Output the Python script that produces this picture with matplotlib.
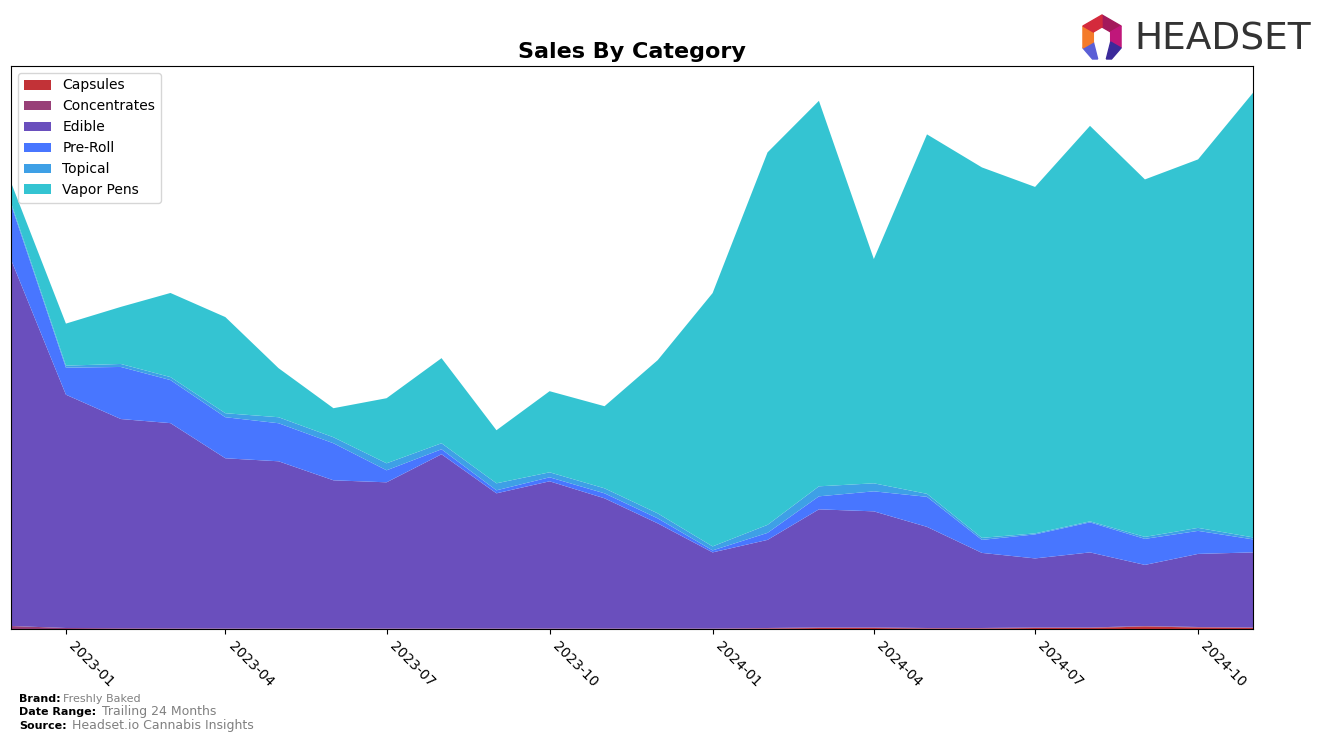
import matplotlib

matplotlib.use("Agg")
import matplotlib.pyplot as plt
import matplotlib.dates as mdates
import numpy as np
import pandas as pd
from matplotlib.patches import Polygon

# monthly sales by category (arbitrary units)
months = pd.date_range("2022-12-01", "2024-11-01", freq="MS")
categories = ["Capsules", "Concentrates", "Edible", "Pre-Roll", "Topical", "Vapor Pens"]
capsules = [0, 0, 0, 0, 0, 0, 0, 0, 0, 0, 0, 0, 0, 0, 0.5, 1, 1, 0.5, 0.5, 1, 1, 2.5, 1.5, 1]
concentrates = [3, 1, 0.7, 0.6, 0.5, 0.5, 0.5, 0.5, 0.5, 0.5, 0.5, 0.5,
                0.5, 0.5, 0.5, 0.5, 0.5, 0.5, 0.5, 0.5, 0.5, 0.5, 0.5, 0.5]
edible = [366, 233, 209, 205, 170, 167, 148, 146, 174, 135, 147, 130,
          105, 76, 88, 118, 116, 101, 75, 69, 75, 61, 73, 75]
pre_roll = [55, 27, 52, 43, 41, 38, 37, 12, 5, 3, 4, 5,
            5, 2, 7, 13, 20, 30, 13, 24, 30, 26, 23, 13]
topical = [2, 2, 3, 3, 4, 6, 6, 7, 6, 7, 5, 5,
           5, 4, 8, 10, 8, 3, 2, 1, 1, 2, 3, 2]
vapor_pens = [20, 42, 57, 84, 96, 49, 29, 65, 85, 53, 81, 82,
              153, 253, 372, 385, 224, 359, 370, 346, 395, 357, 368, 444]

COLORS = ["#c23237", "#984078", "#6a4fbd", "#4876ff", "#3ea0e6", "#34c4d2"]

series = [capsules, concentrates, edible, pre_roll, topical, vapor_pens]
totals = np.sum(np.array(series), axis=0)

fig = plt.figure(figsize=(13.17, 7.43), dpi=100)
ax = fig.add_axes([11 / 1317, 1 - 629 / 743, (1253 - 11) / 1317, (629 - 66) / 743])

ax.stackplot(months, *series, labels=categories, colors=COLORS, linewidth=0)
ax.set_xlim(months[0], months[-1])
ax.set_ylim(0, totals.max() * 1.05)
ax.set_yticks([])
ax.xaxis.set_major_locator(mdates.MonthLocator(bymonth=[1, 4, 7, 10]))
ax.xaxis.set_major_formatter(mdates.DateFormatter("%Y-%m"))
plt.setp(ax.get_xticklabels(), rotation=-45, ha="left", fontsize=10)
ax.set_title("Sales By Category", fontsize=16, fontweight="bold", pad=6)
ax.legend(loc="upper left", fontsize=10, frameon=True)

# footer
fig.text(19 / 1317, 1 - 699 / 743, "Brand:", fontsize=8, fontweight="bold", va="center")
fig.text(63 / 1317, 1 - 699 / 743, "Freshly Baked", fontsize=8, color="gray", va="center")
fig.text(19 / 1317, 1 - 712 / 743, "Date Range:", fontsize=8, fontweight="bold", va="center")
fig.text(102 / 1317, 1 - 712 / 743, "Trailing 24 Months", fontsize=9, color="gray", va="center")
fig.text(19 / 1317, 1 - 726 / 743, "Source:", fontsize=8, fontweight="bold", va="center")
fig.text(72 / 1317, 1 - 726 / 743, "Headset.io Cannabis Insights", fontsize=9, color="gray", va="center")

# logo
fig.text(1134 / 1317, 1 - 39 / 743, "HEADSET", fontsize=27, color="#333333",
         va="center", ha="left")
cx, cy, r_out, r_in = 1102, 37, 22, 10
ang = np.deg2rad([90, 30, -30, -90, -150, 150])
outer = [(cx + r_out * np.cos(a), cy - r_out * np.sin(a)) for a in ang]
inner = [(cx + r_in * np.cos(a), cy - r_in * np.sin(a)) for a in ang]
side_colors = ["#a3195b", "#c0177a", "#3b2a9a", "#5a5fd6", "#f47b2a", "#d42a3c"]
for i, col in enumerate(side_colors):
    j = (i + 1) % 6
    o1, o2, i1, i2 = outer[i], outer[j], inner[i], inner[j]
    if i == 2:
        o2 = ((o1[0] + o2[0]) / 2, o2[1])
        i2 = ((i1[0] + i2[0]) / 2, o2[1])
    if i == 3:
        o1 = ((o1[0] + o2[0]) / 2, o1[1])
        i1 = ((i1[0] + i2[0]) / 2, o1[1])
    pts = [(x / 1317, 1 - y / 743) for x, y in (o1, o2, i2, i1)]
    fig.add_artist(Polygon(pts, closed=True, color=col, transform=fig.transFigure))

fig.savefig("out.png", dpi=100)
